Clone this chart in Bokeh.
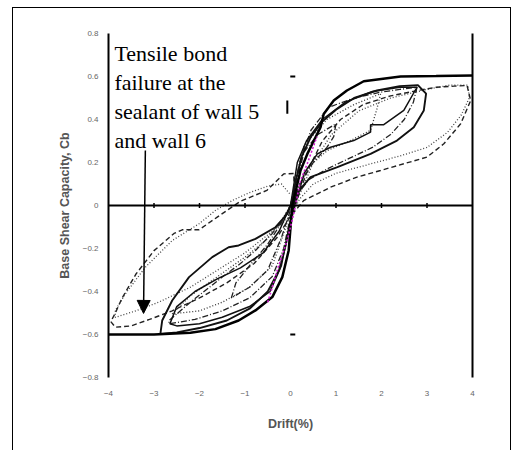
from math import pi
from bokeh.plotting import figure
from bokeh.models import Range1d, LinearAxis, Span, Arrow, NormalHead, FixedTicker
from bokeh.core.properties import value
from bokeh.embed import file_html
from bokeh.resources import INLINE

# ---- axis ticks ----
x_ticks = [-4, -3, -2, -1, 0, 1, 2, 3, 4]
y_ticks = [-0.8, -0.6, -0.4, -0.2, 0, 0.2, 0.4, 0.6, 0.8]
zero_line_ticks = [-3, -2, -1, 1, 2, 3]

# ---- hysteresis data (drift %, base shear capacity Cb) ----
env_x = [-4.0, -3.0, -2.2, -1.65, -1.14, -0.77, -0.40, -0.18, -0.04, 0.04, 0.22, 0.37, 0.66, 0.73, 0.95, 1.24, 1.61, 2.42, 3.2, 4.0]
env_y = [-0.600, -0.600, -0.592, -0.575, -0.535, -0.488, -0.426, -0.333, -0.209, 0.0, 0.163, 0.24, 0.364, 0.426, 0.488, 0.535, 0.578, 0.600, 0.602, 0.605]

loop3_x = [-2.86, -2.82, -2.60, -2.23, -1.72, -1.36, -1.14, -0.77, -0.33, -0.07, 0.04, 0.12, 0.25, 0.45, 0.70, 1.00, 1.40, 1.90, 2.40, 2.80, 2.98, 2.93, 2.71, 2.34, 1.76, 1.03, 0.44, 0.15, 0.02, -0.10, -0.25, -0.50, -0.90, -1.40, -2.00, -2.50, -2.86]
loop3_y = [-0.597, -0.535, -0.442, -0.333, -0.240, -0.194, -0.186, -0.155, -0.101, -0.039, 0.020, 0.120, 0.230, 0.320, 0.390, 0.445, 0.500, 0.535, 0.555, 0.560, 0.520, 0.442, 0.364, 0.302, 0.240, 0.178, 0.132, 0.060, -0.050, -0.180, -0.300, -0.400, -0.480, -0.535, -0.570, -0.590, -0.597]

loop2_x = [0.0, 0.15, 0.35, 0.7, 1.2, 1.8, 2.4, 2.78, 2.49, 2.05, 1.76, 1.76, 1.39, 0.88, 0.59, 0.30, 0.10, -0.05, -0.2, -0.45, -0.9, -1.5, -2.0, -2.5, -2.65, -2.5, -2.1, -1.6, -1.1, -0.6, -0.25, 0.0]
loop2_y = [0.0, 0.2, 0.3, 0.40, 0.48, 0.53, 0.55, 0.55, 0.442, 0.376, 0.376, 0.341, 0.302, 0.271, 0.24, 0.15, 0.0, -0.12, -0.28, -0.40, -0.47, -0.52, -0.55, -0.56, -0.55, -0.47, -0.40, -0.34, -0.29, -0.22, -0.12, 0.0]

loop4_x = [0.1, 0.35, 0.7, 1.1, 1.6, 2.2, 2.8, 3.2, 3.6, 3.88, 3.96, 3.74, 3.37, 3.0, 2.49, 1.98, 1.46, 0.88, 0.29, 0.0, -0.3, -0.8, -1.4, -2.0, -2.6, -3.1, -3.5, -3.85, -3.95, -3.85, -3.7, -3.4, -3.0, -2.56, -2.38, -2.01, -1.61, -1.1, -0.52, -0.15, 0.07, 0.1]
loop4_y = [0.0, 0.15, 0.30, 0.40, 0.47, 0.51, 0.535, 0.55, 0.555, 0.558, 0.488, 0.38, 0.287, 0.225, 0.194, 0.163, 0.132, 0.085, 0.023, -0.05, -0.15, -0.27, -0.36, -0.43, -0.49, -0.53, -0.56, -0.566, -0.54, -0.50, -0.43, -0.32, -0.21, -0.13, -0.113, -0.113, -0.054, 0.02, 0.07, 0.147, 0.149, 0.0]

loop4b_x = [0.2, 0.5, 0.9, 1.5, 2.2, 3.0, 3.5, 3.9, 3.93, 3.75, 3.45, 3.0, 2.4, 1.7, 1.0, 0.5, 0.2, 0.0, -0.4, -1.0, -1.6, -2.2, -2.9, -3.4, -3.85, -3.85, -3.63, -3.19, -2.60, -2.01, -1.65, -1.28, -0.9, -0.5, -0.2, 0.0]
loop4b_y = [0.05, 0.2, 0.33, 0.44, 0.50, 0.54, 0.56, 0.56, 0.50, 0.42, 0.34, 0.27, 0.23, 0.19, 0.15, 0.10, 0.03, -0.05, -0.12, -0.22, -0.30, -0.38, -0.45, -0.49, -0.52, -0.488, -0.411, -0.287, -0.163, -0.085, -0.023, 0.023, 0.06, 0.09, 0.10, 0.05]

loopdd_x = [0.0, 0.2, 0.45, 0.84, 1.4, 1.98, 2.4, 2.78, 2.7, 2.5, 2.2, 1.8, 1.3, 0.8, 0.4, 0.15, 0.0, -0.15, -0.4, -0.9, -1.5, -2.1, -2.67, -2.67, -2.2, -1.50, -1.1, -0.77, -0.40, -0.18, 0.0]
loopdd_y = [0.0, 0.2, 0.35, 0.457, 0.50, 0.527, 0.54, 0.55, 0.48, 0.40, 0.33, 0.27, 0.22, 0.17, 0.12, 0.05, -0.05, -0.2, -0.33, -0.43, -0.49, -0.53, -0.55, -0.535, -0.45, -0.333, -0.27, -0.209, -0.13, -0.07, 0.0]

loopdot_x = [0.0, 0.3, 0.8, 1.4, 1.98, 1.9, 1.76, 1.3, 0.81, 0.4, 0.1, -0.1, -0.4, -0.9, -1.5, -2.0, -2.6, -2.2, -1.6, -1.0, -0.55, -0.2, 0.0]
loopdot_y = [0.0, 0.28, 0.40, 0.47, 0.52, 0.45, 0.35, 0.30, 0.256, 0.18, 0.05, -0.1, -0.28, -0.38, -0.45, -0.49, -0.504, -0.42, -0.33, -0.24, -0.163, -0.07, 0.0]

loop1_x = [0.0, 0.3, 0.6, 1.0, 0.95, 0.8, 0.5, 0.2, 0.0, -0.2, -0.5, -0.9, -1.3, -1.2, -0.9, -0.5, -0.2, 0.0]
loop1_y = [0.0, 0.25, 0.33, 0.38, 0.32, 0.27, 0.2, 0.1, -0.02, -0.15, -0.3, -0.38, -0.43, -0.36, -0.28, -0.18, -0.08, 0.0]

magenta_x = [-0.50, -0.40, -0.29, -0.18, -0.07, 0.07, 0.22, 0.37, 0.48, 0.58]
magenta_y = [-0.45, -0.38, -0.30, -0.23, -0.16, -0.04, 0.116, 0.195, 0.26, 0.32]

mark_x = [0.05, 0.05]
mark_y = [0.60, -0.60]
bar_x = [-0.07, -0.07]
bar_y = [0.488, 0.427]

note = "Tensile bond\nfailure at the\nsealant of wall 5\nand wall 6"

p = figure(width=499, height=443, x_range=Range1d(-4, 4), y_range=Range1d(-0.8, 0.8),
           output_backend="svg", toolbar_location=None,
           min_border_left=95, min_border_right=40, min_border_top=25, min_border_bottom=74,
           margin=(7, 0, 0, 12))
p.styles = {"border": "1px solid black", "border-bottom": "none"}
p.outline_line_color = None
p.xgrid.visible = False
p.ygrid.visible = False

# y axis (left)
p.yaxis.ticker = FixedTicker(ticks=y_ticks)
p.yaxis.axis_line_width = 2
p.yaxis.axis_line_color = "black"
p.yaxis.major_tick_out = 0
p.yaxis.major_tick_in = 0
p.yaxis.minor_tick_out = 0
p.yaxis.minor_tick_in = 0
p.yaxis.major_label_standoff = 10
p.yaxis.major_label_text_font = "Liberation Sans"
p.yaxis.major_label_text_font_size = "8px"
p.yaxis.major_label_text_color = "#666666"
p.yaxis.axis_label = "Base Shear Capacity, Cb"
p.yaxis.axis_label_text_font = "Liberation Sans"
p.yaxis.axis_label_text_font_size = "12.5px"
p.yaxis.axis_label_text_font_style = "bold"
p.yaxis.axis_label_text_color = "#555555"
p.yaxis.axis_label_standoff = 8

# x axis (below)
p.xaxis.ticker = FixedTicker(ticks=x_ticks)
p.xaxis.axis_line_color = None
p.xaxis.major_tick_out = 0
p.xaxis.major_tick_in = 0
p.xaxis.minor_tick_out = 0
p.xaxis.minor_tick_in = 0
p.xaxis.major_label_standoff = 13
p.xaxis.major_label_text_font = "Liberation Sans"
p.xaxis.major_label_text_font_size = "8px"
p.xaxis.major_label_text_color = "#666666"
p.xaxis.axis_label = "Drift(%)"
p.xaxis.axis_label_text_font = "Liberation Sans"
p.xaxis.axis_label_text_font_size = "12.5px"
p.xaxis.axis_label_text_font_style = "bold"
p.xaxis.axis_label_text_color = "#555555"
p.xaxis.axis_label_standoff = 18

# right border line as an axis
right = LinearAxis(ticker=FixedTicker(ticks=[]), axis_line_width=2, axis_line_color="black",
                   major_tick_out=0, minor_tick_out=0)
p.add_layout(right, "right")

p.add_layout(Span(location=0, dimension="width", line_color="black", line_width=2))
p.scatter(zero_line_ticks, [0] * len(zero_line_ticks), marker="dash", angle=pi / 2, size=5,
          line_color="black", line_width=1.5)

# curves
p.line(loop4b_x, loop4b_y, line_color="#444444", line_width=1.3, line_dash="1 2")
p.line(loop4_x, loop4_y, line_color="#222222", line_width=1.4, line_dash="5 3")
p.line(loopdot_x, loopdot_y, line_color="#333333", line_width=1.3, line_dash="1 2")
p.line(loopdd_x, loopdd_y, line_color="#222222", line_width=1.3, line_dash="6 2 1 2")
p.line(loop1_x, loop1_y, line_color="#222222", line_width=1.3, line_dash="6 2 1 2")
p.line(loop2_x, loop2_y, line_color="#111111", line_width=1.5)
p.line(loop3_x, loop3_y, line_color="#111111", line_width=1.9)
p.line(env_x, env_y, line_color="black", line_width=2.5)
p.line(magenta_x, magenta_y, line_color="#d020d0", line_width=1.6, line_dash="2 2")

p.scatter(mark_x, mark_y, marker="dash", size=5, line_color="black", line_width=2)
p.line(bar_x, bar_y, line_color="black", line_width=2)

p.text(x=[-3.87], y=[0.765], text=[note], text_font=value("Liberation Serif"),
       text_font_size="22px", text_baseline="top", text_align="left",
       text_line_height=1.16, text_color="black")
p.add_layout(Arrow(end=NormalHead(size=13, fill_color="black", line_color="black"),
                   x_start=-3.19, y_start=0.256, x_end=-3.23, y_end=-0.502,
                   line_color="black", line_width=1.5))

open("out.html", "w").write(file_html(p, INLINE))
